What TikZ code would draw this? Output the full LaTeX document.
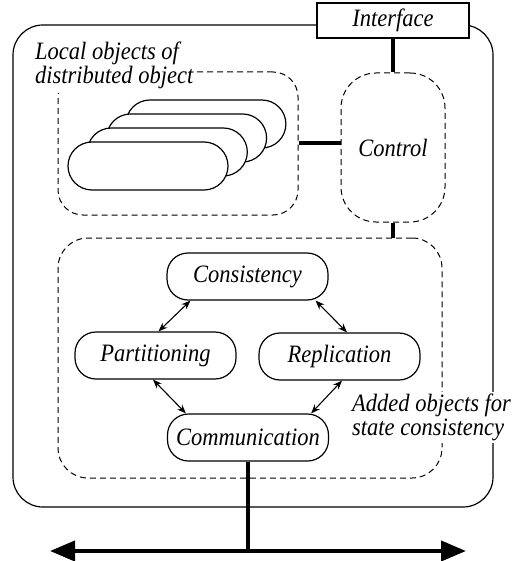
\documentclass[tikz,border=0pt]{standalone}
\usepackage{fontspec}
\setmainfont{Liberation Serif}[FakeStretch=0.9]
\usetikzlibrary{arrows.meta}
\begin{document}
\begin{tikzpicture}[x=1pt,y=-1pt,
  lbl/.style={font=\fontsize{25}{24}\selectfont\itshape},
  dashbox/.style={draw, dash pattern=on 6pt off 4pt, line width=1pt},
  capsule/.style={draw, fill=white, line width=1.2pt, rounded corners=24pt, minimum width=160pt, minimum height=48pt, inner sep=0pt},
  proc/.style={draw, fill=white, line width=1.2pt, rounded corners=21pt, minimum width=161pt, minimum height=47pt, inner sep=0pt, lbl},
  thickline/.style={line width=4pt},
  dbl/.style={<->, >={Stealth[length=9pt,width=7pt]}, line width=1.1pt},
  bus/.style={{Triangle[length=25pt,width=20pt]}-{Triangle[length=25pt,width=20pt]}, line width=4pt}]
\useasboundingbox (0,0) rectangle (512,561);
% outer object
\node[draw, line width=1.2pt, rounded corners=30pt, minimum width=480pt, minimum height=482pt, inner sep=0pt] (outer) at (253,266) {};
\node[draw, fill=white, line width=1.2pt, minimum width=152pt, minimum height=35pt, inner sep=0pt, lbl] (iface) at (393,20.5) {Interface};
% boxes
\node[dashbox, rounded corners=25pt, minimum width=240pt, minimum height=143pt, inner sep=0pt] (localbox) at (178,143.5) {};
\node[dashbox, rounded corners=35pt, minimum width=104pt, minimum height=149pt, inner sep=0pt, lbl] (control) at (393,147.5) {Control};
\node[dashbox, rounded corners=30pt, minimum width=384pt, minimum height=240pt, inner sep=0pt] (added) at (250,358) {};
% local objects
\foreach \i in {3,2,1,0} \node[capsule] (obj\i) at ({148+19.3*\i},{166-14*\i}) {};
\node[lbl, fill=white, align=left, anchor=north west, inner xsep=2pt, inner ysep=4pt] (localtxt) at (33,38) {Local objects of\\distributed object};
% added objects
\node[proc] (cons) at (247.5,276.5) {Consistency};
\node[proc] (part) at (155.5,355.5) {Partitioning};
\node[proc] (repl) at (339.5,356.5) {Replication};
\node[proc] (comm) at (248,437.5) {Communication};
\node[lbl, fill=white, align=left, anchor=north west, inner sep=2pt] (addtxt) at (350,392) {Added objects for\\state consistency};
% connectors
\draw[thickline] (iface.south) -- (control.north);
\draw[thickline] (localbox.east) -- (localbox.east -| control.west);
\draw[thickline] (control.south) -- (control.south |- added.north);
\draw[dbl] ([xshift=24pt]cons.south west) -- ([xshift=3pt]part.north);
\draw[dbl] ([xshift=-13pt]cons.south east) -- ([xshift=7.5pt]repl.north);
\draw[dbl] ([xshift=-2.5pt]part.south) -- ([xshift=19pt]comm.north west);
\draw[dbl] ([xshift=2.5pt]repl.south) -- ([xshift=-18pt]comm.north east);
% bus
\coordinate (busL) at (50,551);
\coordinate (busR) at (466,551);
\coordinate (busC) at (comm.south |- busL);
\draw[thickline] (comm.south) -- (busC);
\draw[bus] (busL) -- (busR);
\end{tikzpicture}
\end{document}
